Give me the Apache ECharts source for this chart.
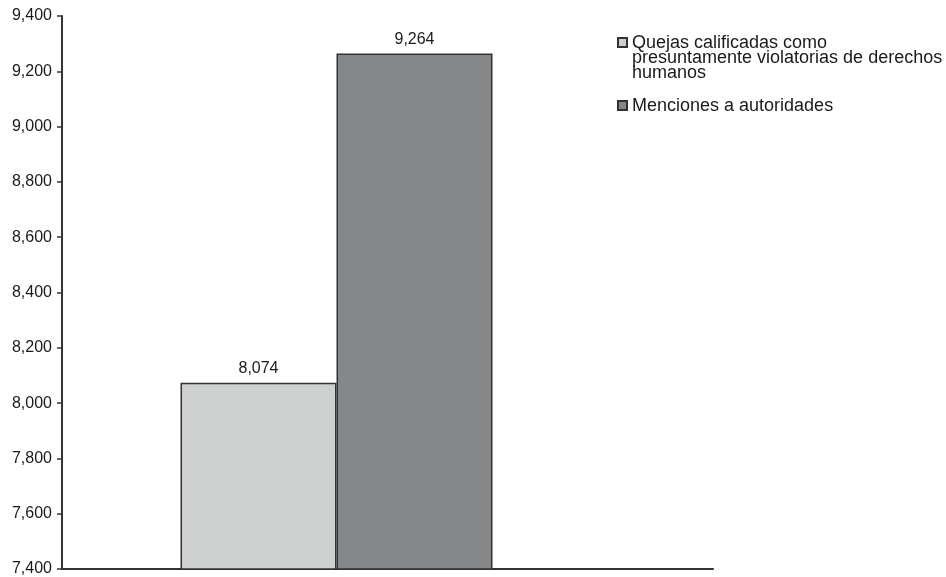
<!DOCTYPE html>
<html>
<head>
<meta charset="utf-8">
<script src="https://cdn.jsdelivr.net/npm/echarts@6/dist/echarts.min.js"></script>
<style>html,body{margin:0;padding:0;background:#fff}#c{width:946px;height:577px}</style>
</head>
<body>
<div id="c"></div>
<script>
var categories = ['Total'];
var seriesNames = ['Quejas calificadas como\npresuntamente violatorias de derechos\nhumanos', 'Menciones a autoridades'];
var quejas = [8074];
var menciones = [9264];
var yMin = 7400, yMax = 9400, yStep = 200;

var chart = echarts.init(document.getElementById('c'), null, {renderer: 'canvas'});
var font = '"Liberation Sans", Arial, Helvetica, sans-serif';
var fmt = function (v) { return Number(v).toLocaleString('en-US'); };
var iconTop = 'path://M0,2 L9,2 L9,11 L0,11 Z M0,0 L0,0 M9,44 L9,44';
var iconMid = 'path://M0,17 L9,17 L9,26 L0,26 Z M0,0 L0,0 M9,44 L9,44';

chart.setOption({
  animation: false,
  backgroundColor: '#ffffff',
  textStyle: {fontFamily: font},
  grid: [
    {left: 62, right: 335, top: 16, bottom: 8, containLabel: false},
    {left: 62, right: 233, top: 16, bottom: 8, containLabel: false}
  ],
  legend: {
    orient: 'vertical',
    left: 617,
    top: 34,
    padding: 0,
    itemWidth: 9,
    itemHeight: 44,
    itemGap: 1,
    selectedMode: false,
    textStyle: {fontFamily: font, fontSize: 18, color: '#1a1a1a', lineHeight: 15},
    data: [
      {name: seriesNames[0], icon: iconTop},
      {name: seriesNames[1], icon: iconMid}
    ]
  },
  xAxis: [
    {type: 'category', gridIndex: 0, data: categories, axisLine: {show: false}, axisTick: {show: false}, axisLabel: {show: false}, splitLine: {show: false}},
    {type: 'value', gridIndex: 1, min: 0, max: 1, axisLine: {show: true, onZero: false, lineStyle: {color: '#333333', width: 2}}, axisTick: {show: false}, axisLabel: {show: false}, splitLine: {show: false}}
  ],
  yAxis: [
    {
      type: 'value', gridIndex: 0, min: yMin, max: yMax, interval: yStep,
      axisLine: {show: true, lineStyle: {color: '#333333', width: 2}},
      axisTick: {show: true, length: 5, lineStyle: {color: '#333333', width: 1.5}},
      axisLabel: {color: '#1a1a1a', fontSize: 16, margin: 10, fontFamily: font, formatter: fmt},
      splitLine: {show: false}
    },
    {type: 'value', gridIndex: 1, min: yMin, max: yMax, show: false}
  ],
  series: [
    {
      name: seriesNames[0], type: 'bar', xAxisIndex: 0, yAxisIndex: 0,
      data: quejas, barWidth: 156, barGap: '0%',
      itemStyle: {color: '#cdd0cf', borderColor: '#333333', borderWidth: 1.5},
      label: {show: true, position: 'top', distance: 6, color: '#1a1a1a', fontSize: 16, fontFamily: font, formatter: function (p) { return fmt(p.value); }}
    },
    {
      name: seriesNames[1], type: 'bar', xAxisIndex: 0, yAxisIndex: 0,
      data: menciones, barWidth: 156, barGap: '0%',
      itemStyle: {color: '#868789', borderColor: '#333333', borderWidth: 1.5},
      label: {show: true, position: 'top', distance: 6, color: '#1a1a1a', fontSize: 16, fontFamily: font, formatter: function (p) { return fmt(p.value); }}
    }
  ]
});
</script>
</body>
</html>
